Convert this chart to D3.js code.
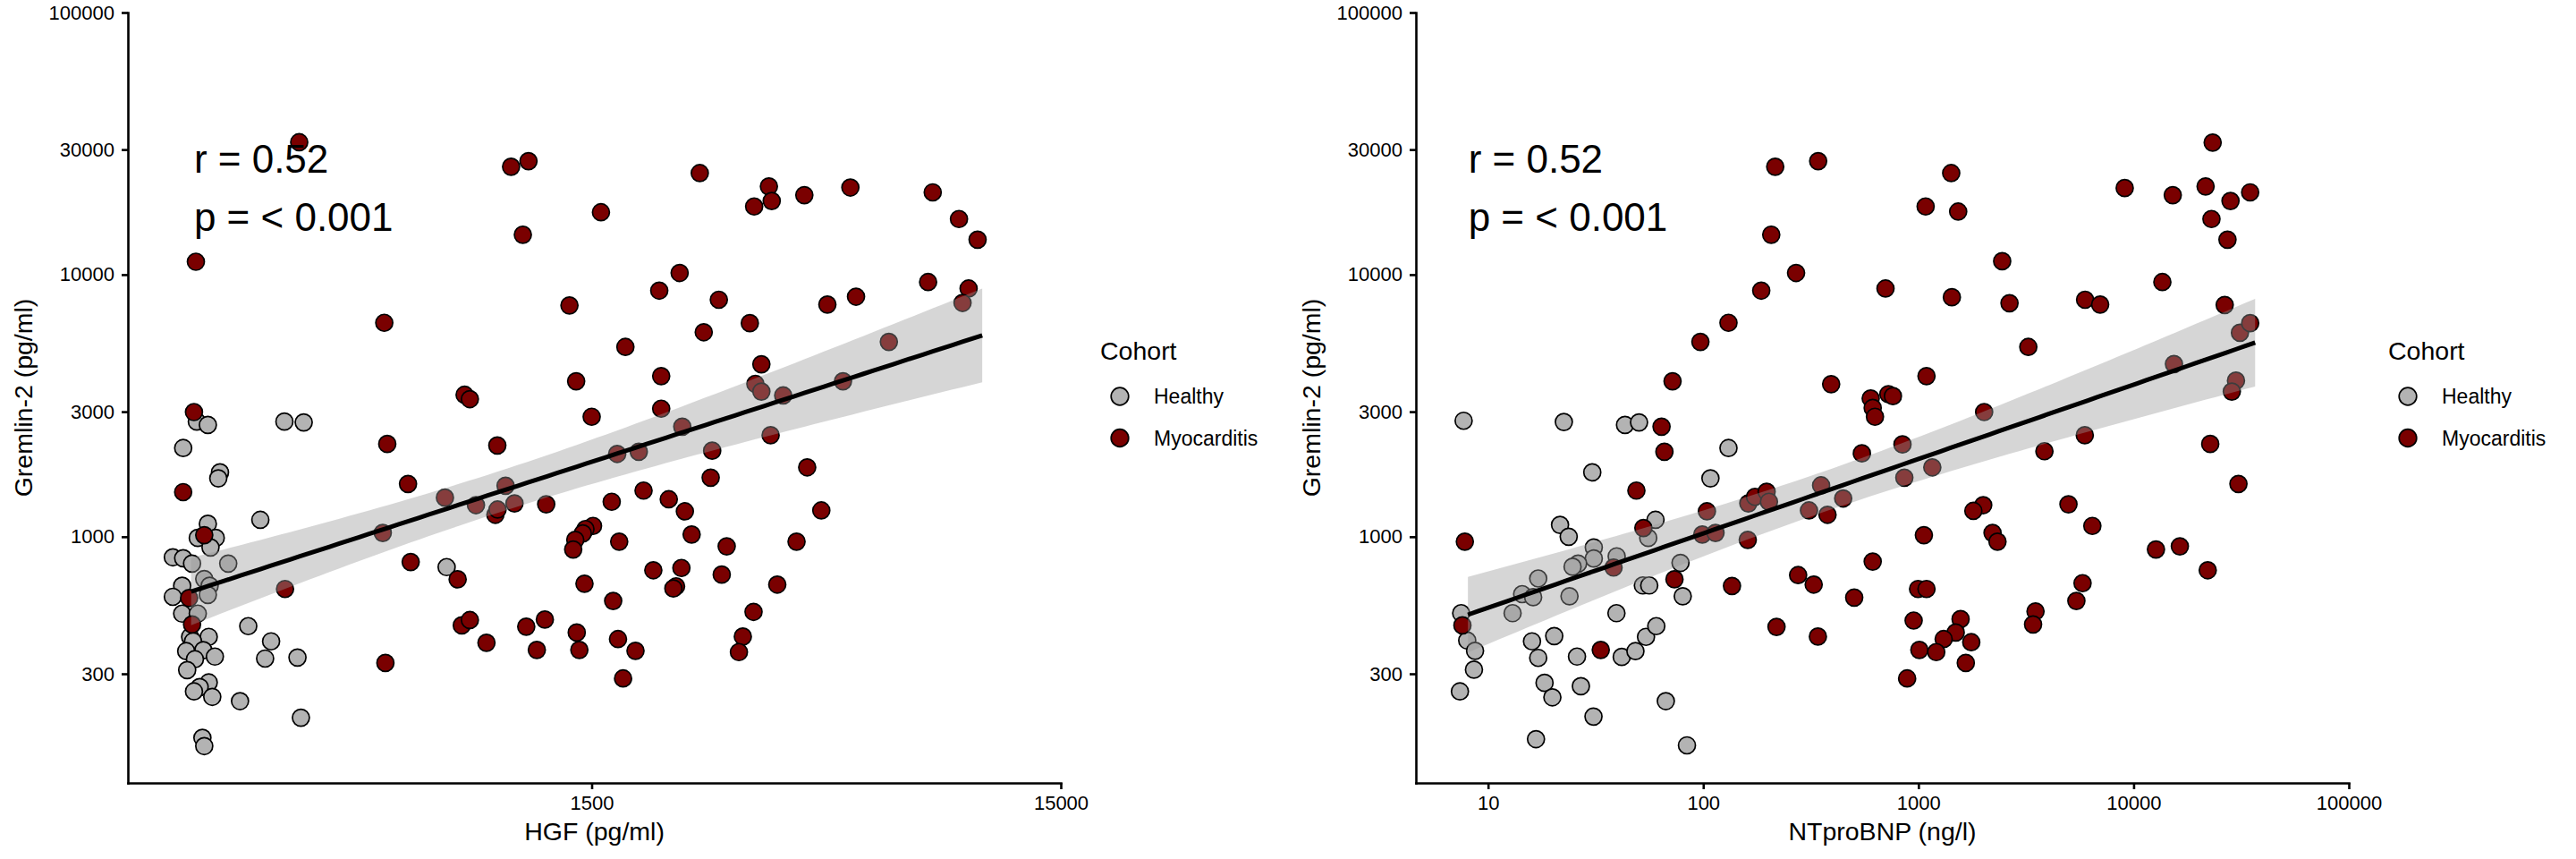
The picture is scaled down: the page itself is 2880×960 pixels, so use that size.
<!DOCTYPE html>
<html lang="en">
<head>
<meta charset="UTF-8">
<title>Gremlin-2 vs HGF and NTproBNP</title>
<script src="https://d3js.org/d3.v7.min.js"></script>
<style>
  body { margin: 0; background: #fff; }
  svg { display: block; font-family: "Liberation Sans", Arial, sans-serif; }
</style>
</head>
<body>
<svg id="chart" width="2880" height="960"></svg>
<script>
// categories and styling of the legend
const cohorts = ["Healthy", "Myocarditis"];
const cohortColors = ["#b3b3b3", "#7a0000"];

// tick labels
const yTicks = [300, 1000, 3000, 10000, 30000, 100000];
const hgfTicks = [1500, 15000];
const ntTicks = [10, 100, 1000, 10000, 100000];
const statLabels = ["r = 0.52", "p = < 0.001"];

// axis limits and fit extent
const yLimits = [115, 100000];
const hgfLimits = [154, 15000];
const ntLimits = [4.62, 100000];
const hgfFitRange = [210, 10200];
const ntFitRange = [8.06, 36700];
const hgfLabelAt = [213, 24500, 14700];
const ntLabelAt = [8.1, 24500, 14700];

// [HGF pg/ml, Gremlin-2 pg/ml]
const hgfHealthy = [
  [216,2750],[228,2670],[202,2180],[332,2750],[365,2730],[242,1760],[240,1670],[295,1160],
  [228,1120],[217,990],[237,990],[231,910],[192,835],[202,828],[211,790],[252,790],
  [224,690],[230,650],[201,650],[192,590],[228,600],[201,509],[217,509],[209,415],
  [229,415],[212,399],[205,366],[223,369],[214,341],[236,349],[206,310],[229,278],
  [219,267],[213,257],[233,245],[267,236],[278,456],[311,399],[302,343],[354,346],
  [360,204],[222,171],[224,159],[736,766]
];
const hgfMyocarditis = [
  [357,32000],[1010,25800],[1100,27100],[1570,17300],[1070,14200],[215,11200],[1345,7630],[542,6550],
  [1770,5300],[1390,3920],[804,3480],[825,3350],[213,2990],[1500,2870],[550,2260],[944,2230],
  [609,1590],[202,1480],[1655,1360],[1200,1330],[1510,1100],[1455,1070],[1436,1030],[1384,973],
  [1370,894],[1717,958],[224,1014],[617,801],[777,688],[1448,662],[1667,569],[333,632],
  [208,584],[211,463],[793,459],[825,481],[895,394],[1088,454],[1192,483],[1146,370],
  [1394,431],[1412,370],[1707,407],[545,330],[1750,288],[538,1034],[730,1410],[850,1320],
  [983,1565],[1027,1340],[935,1213],[945,1270],[1700,2070],
  [2550,24400],[3580,21700],[3330,18200],[3630,19100],[4260,20100],[5340,21500],[8000,20600],[9100,16300],
  [9970,13600],[2310,10150],[2090,8690],[2800,8020],[7820,9370],[9540,8850],[4770,7690],[5490,8240],
  [2600,6030],[3260,6530],[2110,4100],[3450,4550],[2110,3080],[4320,1840],[2690,1680],[1935,1500],
  [2190,1390],[2370,1250],[4630,1260],[2450,1020],[2910,919],[4100,958],[2030,745],[2330,760],
  [2840,717],[2270,647],[2240,635],[3730,657],[3320,517],[1860,367],[3150,416],[3090,363],
  [1890,2110],[2340,2630],[2710,2130],[3350,3830],[3450,3580],[3840,3460],[3610,2440],[5150,3920],
  [6450,5540],[9260,7800]
];

// [NTproBNP ng/l, Gremlin-2 pg/ml]
const ntHealthy = [
  [7.7,2770],[22.5,2740],[43.3,2670],[50.3,2730],[131,2180],[30.5,1760],[108,1670],[60,1160],
  [21.6,1110],[23.7,1000],[55.5,990],[31,910],[39.6,842],[31,826],[26.2,790],[24.7,768],
  [78.4,795],[17.1,693],[14.4,604],[16.2,588],[23.9,593],[52.4,652],[56.1,652],[80.3,593],
  [7.5,511],[13,511],[39.5,511],[8.0,402],[8.7,367],[8.6,311],[16,399],[20.3,418],
  [17.1,345],[25.9,349],[41.8,348],[48.4,366],[54.2,415],[60.5,456],[7.4,257],[18.3,277],
  [19.9,244],[27,269],[30.9,206],[67,236],[16.7,169],[84,160]
];
const ntMyocarditis = [
  [216,25800],[342,27100],[207,14200],[270,10150],[186,8690],[703,8850],[131,6550],[97,5540],
  [72,3920],[393,3820],[600,3370],[613,3100],[628,2870],[725,3500],[761,3440],[64,2630],
  [66,2110],[48.9,1500],[7.8,958],[52.7,1080],[73.5,688],[136,649],[276,714],[326,657],
  [503,586],[613,804],[219,453],[341,416],[33.4,370],[7.6,459],[546,2080],[378,1213],[843,2250],
  [104,1250],[99,1020],[114,1034],[161,973],[162,1340],[174,1420],[197,1485],[202,1360],
  [310,1260],[353,1570],[447,1400],[38.3,763],
  [23300,31900],[1420,24400],[1080,18200],[1530,17400],[9090,21400],[15200,20100],[21600,21700],[28200,19100],
  [34800,20600],[23000,16300],[27300,13600],[2450,11250],[1430,8200],[2650,7780],[5950,8020],[6990,7690],
  [13600,9370],[26500,7660],[3240,5300],[1090,4100],[3850,2120],[22700,2260],[30700,1590],[2000,1320],
  [1800,1255],[4980,1330],[6430,1100],[1060,1014],[2210,1034],[2330,958],[12700,894],[16400,919],
  [22100,745],[996,632],[1090,632],[5790,665],[5420,569],[950,479],[1570,485],[1490,431],
  [1310,407],[1760,396],[1010,370],[1210,363],[1660,330],[3500,519],[3410,463],[886,288],
  [860,1680],[1160,1840],[2020,2990],[5930,2440],[15400,4560],[31200,6000],[34800,6530],[29900,3940],
  [28600,3580]
];

const svg = d3.select("#chart");
svg.append("rect").attr("width", 2880).attr("height", 960).attr("fill", "#fff");

const plot = { left: 143, right: 1186, top: 14, bottom: 875 };

const panels = [
  { offset: 0, series: [hgfHealthy, hgfMyocarditis], limits: hgfLimits, ticks: hgfTicks,
    fitRange: hgfFitRange, labelAt: hgfLabelAt, xTitle: "HGF (pg/ml)" },
  { offset: 1440, series: [ntHealthy, ntMyocarditis], limits: ntLimits, ticks: ntTicks,
    fitRange: ntFitRange, labelAt: ntLabelAt, xTitle: "NTproBNP (ng/l)" }
];

// lm on log10-log10 data with 95% confidence band
function fitLine(points, range) {
  const lx = points.map(d => Math.log10(d[0]));
  const ly = points.map(d => Math.log10(d[1]));
  const n = lx.length, mx = d3.mean(lx), my = d3.mean(ly);
  let sxx = 0, sxy = 0;
  for (let i = 0; i < n; i++) {
    sxx += (lx[i] - mx) ** 2;
    sxy += (lx[i] - mx) * (ly[i] - my);
  }
  const b = sxy / sxx, a = my - b * mx;
  let sse = 0;
  for (let i = 0; i < n; i++) sse += (ly[i] - a - b * lx[i]) ** 2;
  const s = Math.sqrt(sse / (n - 2)), t = 1.976;
  const lo = Math.log10(range[0]), hi = Math.log10(range[1]);
  return d3.range(81).map(i => {
    const u = lo + (hi - lo) * i / 80;
    const fit = a + b * u;
    const se = s * Math.sqrt(1 / n + (u - mx) ** 2 / sxx);
    return { x: 10 ** u, y: 10 ** fit, ymin: 10 ** (fit - t * se), ymax: 10 ** (fit + t * se) };
  });
}

panels.forEach(p => {
  const g = svg.append("g").attr("transform", `translate(${p.offset},0)`);
  const x = d3.scaleLog().domain(p.limits).range([plot.left, plot.right]);
  const y = d3.scaleLog().domain(yLimits).range([plot.bottom, plot.top]);

  // points
  p.series.forEach((s, i) => {
    g.append("g").selectAll("circle").data(s).join("circle")
      .attr("cx", d => x(d[0]))
      .attr("cy", d => y(d[1]))
      .attr("r", 9.5)
      .attr("fill", cohortColors[i])
      .attr("stroke", "#000")
      .attr("stroke-width", 1.7);
  });

  // smooth
  const band = fitLine(p.series.flat(), p.fitRange);
  g.append("path").datum(band)
    .attr("fill", "#999999").attr("fill-opacity", 0.4)
    .attr("d", d3.area().x(d => x(d.x)).y0(d => y(d.ymin)).y1(d => y(d.ymax)));
  g.append("path").datum(band)
    .attr("fill", "none").attr("stroke", "#000").attr("stroke-width", 5)
    .attr("d", d3.line().x(d => x(d.x)).y(d => y(d.y)));

  // axes
  const xAxis = g.append("g").attr("transform", `translate(0,${plot.bottom})`)
    .call(d3.axisBottom(x).tickValues(p.ticks).tickFormat(d3.format("d"))
      .tickSize(7).tickPadding(7).tickSizeOuter(0));
  const yAxis = g.append("g").attr("transform", `translate(${plot.left},0)`)
    .call(d3.axisLeft(y).tickValues(yTicks).tickFormat(d3.format("d"))
      .tickSize(7).tickPadding(8).tickSizeOuter(0));
  [xAxis, yAxis].forEach(ax => {
    ax.attr("font-family", null).attr("font-size", 22);
    ax.select(".domain").attr("stroke", "#000").attr("stroke-width", 2.6).attr("stroke-linecap", "square");
    ax.selectAll(".tick line").attr("stroke", "#000").attr("stroke-width", 2.6);
    ax.selectAll(".tick text").attr("fill", "#000");
  });

  // axis titles
  g.append("text")
    .attr("x", (plot.left + plot.right) / 2).attr("y", 939)
    .attr("text-anchor", "middle").attr("font-size", 28.5)
    .text(p.xTitle);
  g.append("text")
    .attr("transform", `translate(36,${(plot.top + plot.bottom) / 2}) rotate(-90)`)
    .attr("text-anchor", "middle").attr("font-size", 28.5)
    .text("Gremlin-2 (pg/ml)");

  // correlation label
  statLabels.forEach((lab, i) => {
    g.append("text")
      .attr("x", x(p.labelAt[0])).attr("y", y(p.labelAt[i + 1]))
      .attr("font-size", 44)
      .text(lab);
  });

  // legend
  const leg = g.append("g").attr("transform", "translate(1230,0)");
  leg.append("text").attr("x", 0).attr("y", 402).attr("font-size", 28.5).text("Cohort");
  cohorts.forEach((c, i) => {
    const cy = 443 + i * 46.5;
    leg.append("circle").attr("cx", 22).attr("cy", cy).attr("r", 9.8)
      .attr("fill", cohortColors[i]).attr("stroke", "#000").attr("stroke-width", 1.7);
    leg.append("text").attr("x", 60).attr("y", cy).attr("dy", "0.35em")
      .attr("font-size", 23).text(c);
  });
});
</script>
</body>
</html>
